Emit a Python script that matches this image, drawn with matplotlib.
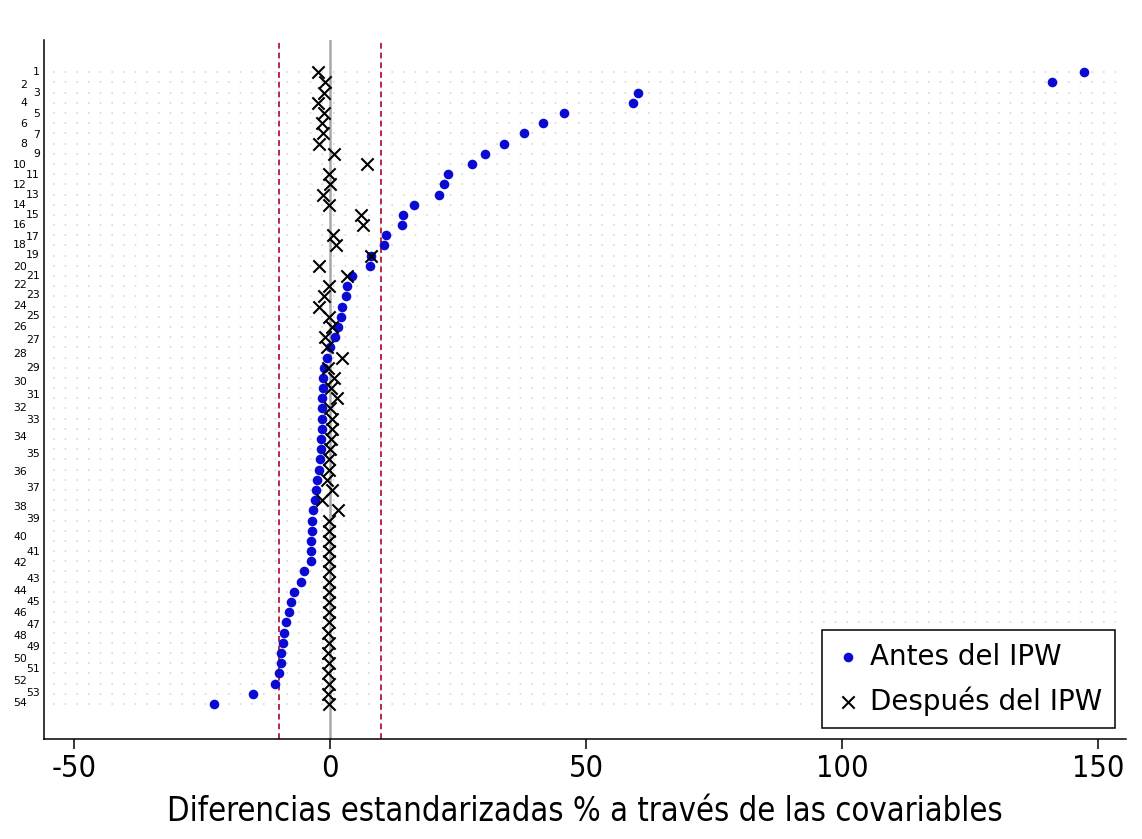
import matplotlib
matplotlib.use("Agg")
import matplotlib.pyplot as plt
import numpy as np

# diferencias estandarizadas (%) por covariable, de arriba hacia abajo
antes = [147.3, 141.0, 60.2, 59.2, 45.7, 41.7, 37.9, 33.9, 30.2, 27.7,
         23.0, 22.3, 21.2, 16.5, 14.2, 14.0, 10.9, 10.5, 8.1, 7.8,
         4.3, 3.3, 3.1, 2.3, 2.1, 1.6, 1.0, 0.0, -0.5, -1.1,
         -1.3, -1.4, -1.5, -1.5, -1.6, -1.6, -1.8, -1.8, -2.0, -2.1,
         -2.6, -2.7, -3.0, -3.3, -3.5, -3.6, -3.7, -3.8, -3.8, -5.0,
         -5.7, -7.0, -7.6, -8.0, -8.5, -9.0, -9.2, -9.6, -9.6, -9.9,
         -10.7, -15.0, -22.6]
despues = [-2.3, -1.0, -1.2, -2.3, -1.2, -1.5, -1.3, -2.1, 0.8, 7.2,
           -0.1, 0.0, -1.3, -0.1, 6.1, 6.5, 0.6, 1.1, 8.1, -2.1,
           3.3, -0.2, -1.2, -2.2, -0.2, 0.3, -1.0, -0.6, 2.3, -0.3,
           0.8, 0.2, 1.4, 0.0, 0.3, 0.3, 0.2, 0.0, -0.1, -0.1,
           -0.6, 0.3, -1.6, 1.6, -0.1, -0.2, -0.1, -0.2, -0.1, -0.2,
           -0.1, -0.2, -0.2, -0.1, -0.2, -0.3, -0.2, -0.3, -0.2, -0.3,
           -0.2, -0.3, -0.2]

# etiquetas del eje y y su posicion (en filas)
etiquetas = [str(i) for i in range(1, 55)]
pos_etiquetas = [0.0, 1.28, 1.99, 2.97, 4.05, 5.03, 6.11, 7.09, 7.98, 9.13,
                 10.11, 11.09, 12.07, 13.05, 14.03, 15.01, 16.16, 16.98, 17.96, 19.10,
                 20.02, 20.90, 21.88, 22.96, 23.94, 25.02, 26.30, 27.67, 29.05, 30.42,
                 31.70, 32.97, 34.15, 35.82, 37.49, 39.25, 40.82, 42.69, 43.87, 45.63,
                 47.11, 48.18, 49.75, 50.93, 52.01, 53.09, 54.27, 55.35, 56.43, 57.61,
                 58.59, 59.76, 60.94, 61.92]

xticks_ = [-50, 0, 50, 100, 150]

fig = plt.figure(figsize=(11.42, 8.39), dpi=100)
ax = fig.add_axes([0.0385, 0.119, 0.9475, 0.833])

filas = np.arange(len(antes))

# grilla punteada
ax.hlines(filas, -54, 153.5, colors='#d8d8d8', linestyles=(0, (1, 6)), linewidth=1.2, zorder=0)

# lineas de referencia
ax.axvline(0, color='#a8a8a8', lw=1.8, zorder=1)
for xv in (-10, 10):
    ax.axvline(xv, color='#b8284a', lw=1.4, ls=(0, (3, 2)), zorder=1)

ax.scatter(antes, filas, s=48, color='#0a0ad2', linewidths=0, label='Antes del IPW', zorder=3)
ax.scatter(despues, filas, s=78, marker='x', color='black', linewidths=1.5,
           label='Después del IPW', zorder=4)

ax.set_xlim(-55.86, 155.47)
ax.set_ylim(65.46, -3.14)

for side in ['top', 'right']:
    ax.spines[side].set_visible(False)
for side in ['left', 'bottom']:
    ax.spines[side].set_linewidth(1.1)

ax.set_yticks([])
for i, (lab, pos) in enumerate(zip(etiquetas, pos_etiquetas)):
    xoff = -0.0037 if (i + 1) % 2 else -0.0157
    ax.text(xoff, pos, lab, transform=ax.get_yaxis_transform(), ha='right', va='center', fontsize=7.8)

ax.set_xticks(xticks_)
ax.set_xticklabels([str(v) for v in xticks_], fontsize=22, fontstretch='condensed')
ax.tick_params(axis='x', length=7, width=1.1, pad=4)
ax.set_xlabel('Diferencias estandarizadas % a través de las covariables',
              fontsize=23.5, fontstretch='condensed', labelpad=8)

leg = ax.legend(loc='lower right', fontsize=20, frameon=True, fancybox=False, edgecolor='black',
                framealpha=1, borderaxespad=0.4, handletextpad=0.3, borderpad=0.45,
                labelspacing=0.55, handlelength=1.0)
leg.get_frame().set_linewidth(1.1)

fig.savefig('out.png', dpi=100)
